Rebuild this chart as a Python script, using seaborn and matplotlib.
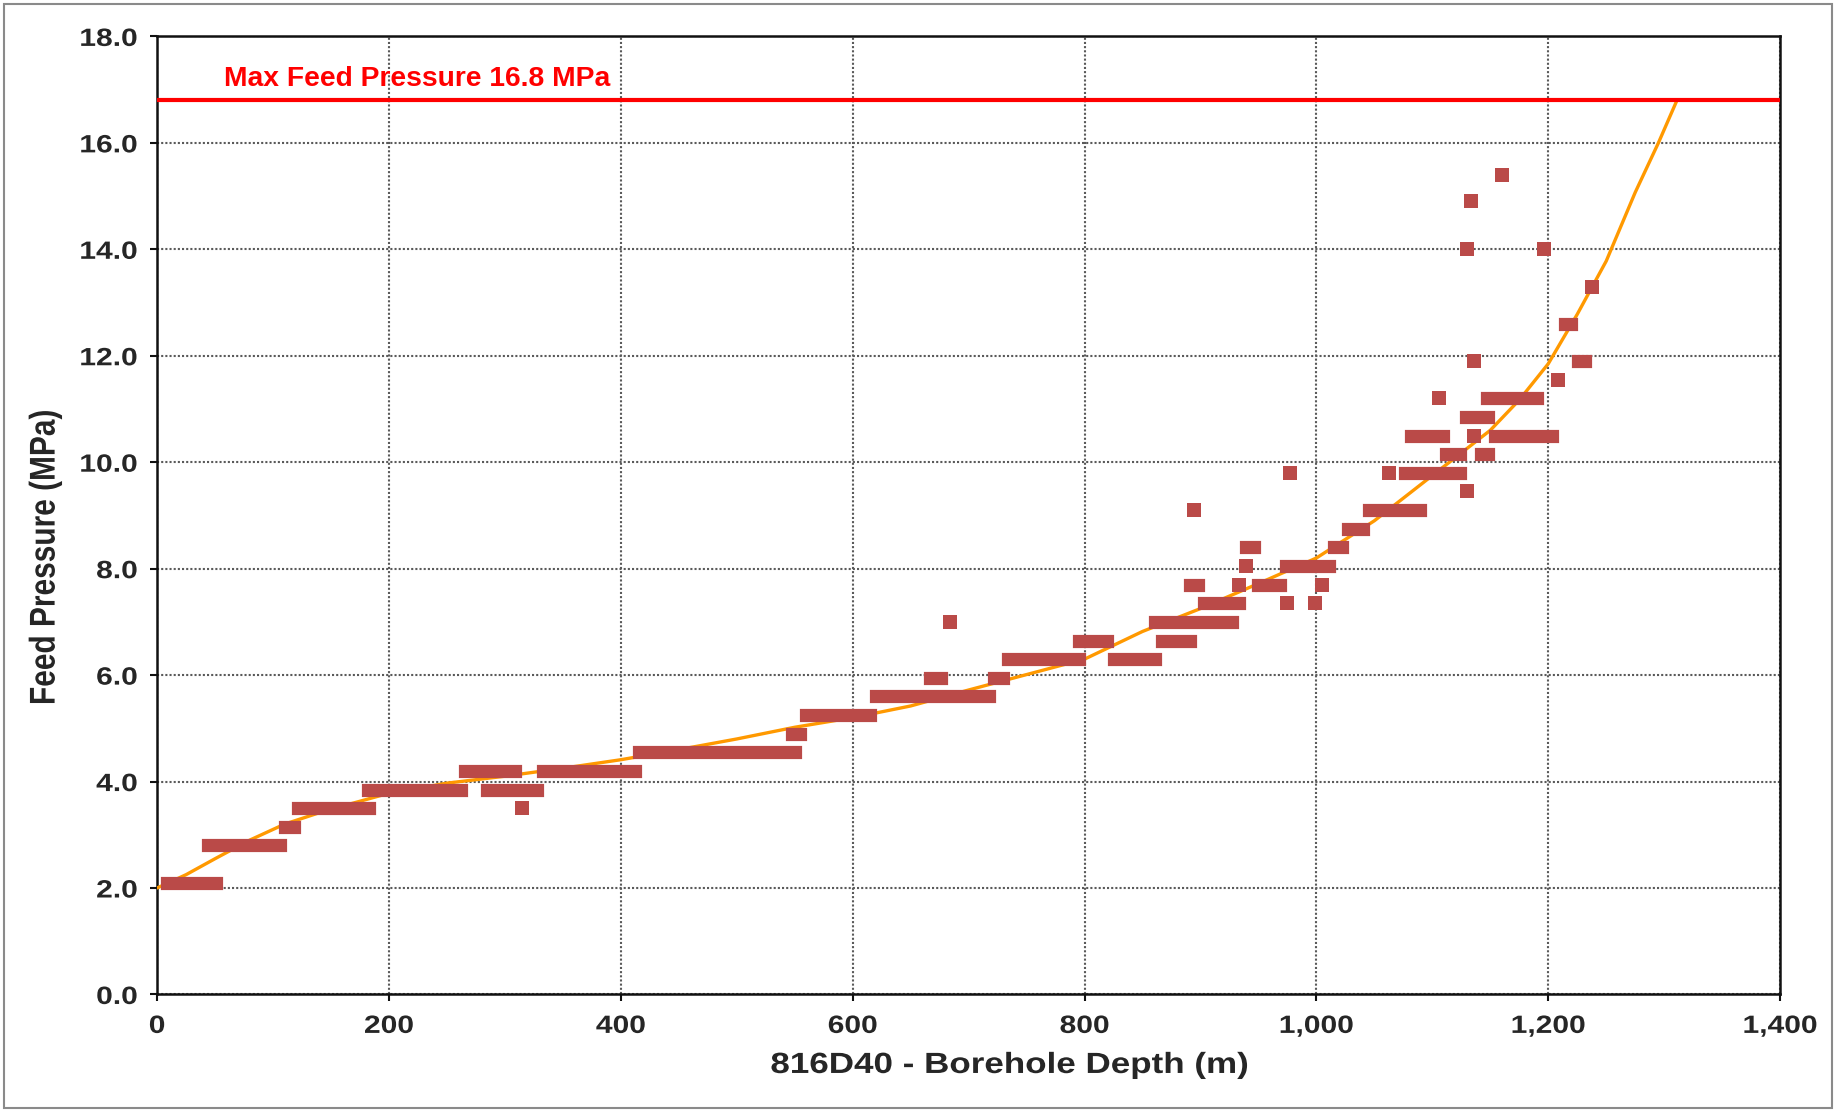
import matplotlib
matplotlib.use("Agg")
import matplotlib.pyplot as plt
from matplotlib.ticker import FixedLocator, StrMethodFormatter
from matplotlib.patches import Rectangle
from matplotlib.patheffects import AbstractPathEffect
from matplotlib.transforms import Affine2D
import pandas as pd
import seaborn as sns

# Logged feed pressure, stored as runs of equal readings:
# first depth, last depth (m) and pressure (MPa) of each run
run_start = [9, 44, 110, 122, 182, 266, 285, 315, 333, 416,
             548, 560, 620, 667, 684, 722, 734, 795, 825, 867,
             861, 891, 894, 903, 933, 939, 939, 950, 975, 977,
             974, 999, 1005, 1015, 1027, 1045, 1063, 1076, 1082, 1106,
             1112, 1130, 1130, 1133, 1136, 1136, 1129, 1142, 1147, 1154,
             1160, 1196, 1208, 1214, 1226, 1238]
run_end = [51, 106, 118, 183, 262, 309, 328, 315, 412, 550,
           555, 615, 718, 676, 684, 730, 795, 819, 861, 891,
           927, 898, 894, 933, 933, 939, 946, 969, 975, 977,
           1011, 999, 1005, 1022, 1040, 1089, 1063, 1124, 1109, 1106,
           1124, 1130, 1130, 1133, 1136, 1136, 1148, 1148, 1190, 1203,
           1160, 1196, 1208, 1220, 1232, 1238]
run_pressure = [2.10, 2.80, 3.15, 3.50, 3.85, 4.20, 3.85, 3.50, 4.20, 4.55,
                4.90, 5.25, 5.60, 5.95, 7.00, 5.95, 6.30, 6.65, 6.30, 6.65,
                7.00, 7.70, 9.10, 7.35, 7.70, 8.05, 8.40, 7.70, 7.35, 9.80,
                8.05, 7.35, 7.70, 8.40, 8.75, 9.10, 9.80, 9.80, 10.50, 11.20,
                10.15, 9.45, 14.00, 14.90, 10.50, 11.90, 10.85, 10.15, 11.20, 10.50,
                15.40, 14.00, 11.55, 12.60, 11.90, 13.30]

# Fitted pressure trend
trend_depth = [0, 25, 50, 80, 110, 145, 200, 250, 300, 350, 400, 450, 500,
               550, 600, 650, 700, 750, 800, 850, 900, 950, 1000, 1050, 1100,
               1150, 1175, 1200, 1225, 1250, 1275, 1295, 1311]
trend_pressure = [2.00, 2.25, 2.55, 2.90, 3.20, 3.45, 3.78, 3.97, 4.10, 4.25,
                  4.41, 4.60, 4.80, 5.02, 5.20, 5.42, 5.72, 6.01, 6.30, 6.82,
                  7.25, 7.72, 8.20, 8.90, 9.75, 10.60, 11.17, 11.85, 12.78,
                  13.78, 15.07, 16.00, 16.80]

max_feed_pressure = 16.8
limit_label = "Max Feed Pressure 16.8 MPa"
x_ticks = [0, 200, 400, 600, 800, 1000, 1200, 1400]
y_ticks = [0, 2, 4, 6, 8, 10, 12, 14, 16, 18]
x_label = "816D40 - Borehole Depth (m)"
y_label = "Feed Pressure (MPa)"

MARKER_RED = "#BA4A48"
TREND_ORANGE = "#FF9900"
LIMIT_RED = "#FF0000"
SQUARE_PT = 9.5   # marker edge length in points
TEXT_WIDEN = 1.2  # horizontal widening of the axis lettering


class WideText(AbstractPathEffect):
    """Draw glyph outlines widened horizontally about a point of their extent
    (anchor 0 = left edge, 0.5 = centre, 1 = right edge)."""

    def __init__(self, sx, anchor=0.5):
        super().__init__()
        self.sx = sx
        self.anchor = anchor

    def draw_path(self, renderer, gc, tpath, affine, rgbFace=None):
        ext = tpath.get_extents(affine)
        x0 = ext.x0 + self.anchor * ext.width
        widen = Affine2D().translate(-x0, 0).scale(self.sx, 1).translate(x0, 0)
        renderer.draw_path(gc, tpath, affine + widen, rgbFace)


sns.set_style("white")
plt.rcParams["font.family"] = ["Liberation Sans", "DejaVu Sans"]
plt.rcParams["font.weight"] = "bold"

fig = plt.figure(figsize=(18.39, 11.10), dpi=100)
ax = fig.add_axes([0.0854, 0.1041, 0.8826, 0.8631])

runs = pd.DataFrame({"start": run_start, "end": run_end, "pressure": run_pressure})
strips = runs[runs["end"] > runs["start"]]
singles = runs[runs["end"] == runs["start"]].rename(columns={"start": "depth"})
trend = pd.DataFrame({"depth": trend_depth, "pressure": trend_pressure})

# trend curve underneath the readings
sns.lineplot(data=trend, x="depth", y="pressure", color=TREND_ORANGE,
             lw=2.4, sort=False, ax=ax, zorder=3)

# consecutive equal readings merge into strips of overlapping squares;
# projecting caps add half a square at each end
ax.hlines(strips["pressure"], strips["start"], strips["end"], colors=MARKER_RED,
          lw=SQUARE_PT, capstyle="projecting", zorder=4)
sns.scatterplot(data=singles, x="depth", y="pressure", marker="s",
                s=SQUARE_PT ** 2, color=MARKER_RED, linewidth=0,
                ax=ax, zorder=5)

# feed pressure limit
ax.axhline(max_feed_pressure, color=LIMIT_RED, lw=3.0, zorder=6)
ax.text(58, 17.2, limit_label, color=LIMIT_RED, fontsize=20.3,
        fontweight="bold", ha="left", va="center", zorder=7)

ax.set_xlim(x_ticks[0], x_ticks[-1])
ax.set_ylim(y_ticks[0], y_ticks[-1])
ax.xaxis.set_major_locator(FixedLocator(x_ticks))
ax.yaxis.set_major_locator(FixedLocator(y_ticks))
ax.xaxis.set_major_formatter(StrMethodFormatter("{x:,.0f}"))
ax.yaxis.set_major_formatter(StrMethodFormatter("{x:.1f}"))

ax.grid(True, color="#5a5a5a", lw=1.5, linestyle=(0, (1, 1)), zorder=1)
ax.set_axisbelow(True)

for side in ["left", "right", "top", "bottom"]:
    ax.spines[side].set_color("#111111")
    ax.spines[side].set_linewidth(1.8)

ax.tick_params(axis="both", which="major", direction="out", length=5,
               width=1.5, color="#111111", labelsize=18, pad=9,
               bottom=True, left=True)

ax.set_xlabel(x_label, fontsize=21, fontweight="bold")
ax.set_ylabel(y_label, fontsize=21.5, fontweight="bold")
ax.xaxis.set_label_coords(0.525, -0.0736)
ax.xaxis.label.set_verticalalignment("center")
ax.yaxis.set_label_coords(-0.0690, 0.456)
ax.yaxis.label.set_verticalalignment("center")

# light grey frame around the whole chart
fig.add_artist(Rectangle((0.0022, 0.0018), 0.9938, 0.9946,
                         transform=fig.transFigure, fill=False,
                         edgecolor="#8a8a8a", lw=1.5))

fig.canvas.draw()
for lab in ax.get_xticklabels():
    lab.set_fontweight("bold")
    lab.set_path_effects([WideText(TEXT_WIDEN, 0.5)])
for lab in ax.get_yticklabels():
    lab.set_fontweight("bold")
    lab.set_path_effects([WideText(TEXT_WIDEN, 1.0)])
ax.xaxis.label.set_path_effects([WideText(TEXT_WIDEN, 0.5)])
ax.yaxis.label.set_path_effects([WideText(TEXT_WIDEN, 0.5)])

fig.savefig("out.png", dpi=100, facecolor="white")
